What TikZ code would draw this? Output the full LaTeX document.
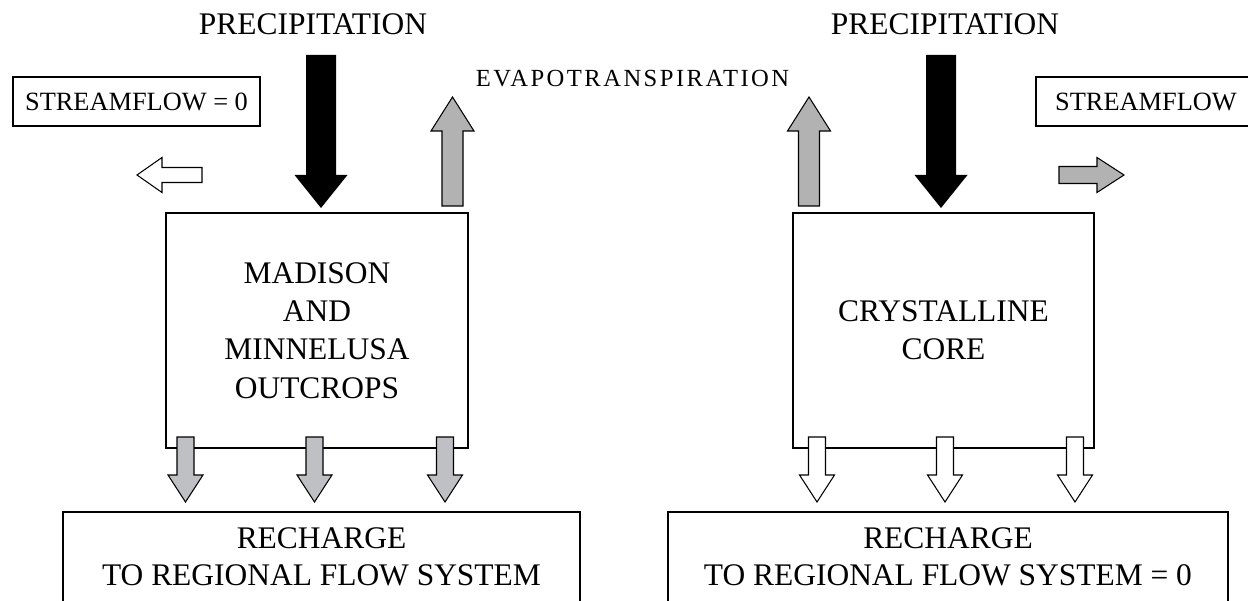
\documentclass[tikz,border=0pt]{standalone}
\usepackage{fontspec}
\setmainfont{Liberation Serif}
\usetikzlibrary{positioning}
\definecolor{EvapGray}{RGB}{178,178,178}
\definecolor{RechGray}{RGB}{191,192,196}
\newfontfamily\evapfont[LetterSpace=10]{Liberation Serif}

\tikzset{
	boxline/.style={draw, line width=1.4pt},
	unitbox/.style={boxline, align=center, inner sep=0pt,
		font=\fontsize{17.9}{21.8}\selectfont},
	flowbox/.style={boxline, inner sep=0pt,
		font=\fontsize{15}{18}\selectfont},
	arrline/.style={draw, line width=0.6pt, line join=miter}
}

\begin{document}
\begin{tikzpicture}[x=0.02cm, y=-0.02cm]
	\useasboundingbox (0,0) rectangle (1248,601);
	
	% Kaesten der beiden Gebiete
	\node[unitbox, minimum width=6.04cm, minimum height=4.7cm] (madison) at (317,330.5)
		{MADISON\\AND\\MINNELUSA\\OUTCROPS};
	\node[unitbox, minimum width=6.02cm, minimum height=4.7cm] (core) at (943.5,330.5)
		{CRYSTALLINE\\CORE};
	
	% Abfluss
	\node[flowbox, minimum width=4.94cm, minimum height=0.98cm] (flowL) at (136.5,101.5) {STREAMFLOW = 0};
	\node[flowbox, minimum width=4.4cm, minimum height=0.98cm] (flowR) at (1146,101.5) {STREAMFLOW};
	
	% Beschriftung oben
	\node[anchor=base, inner sep=0pt, font=\fontsize{17.9}{21.8}\selectfont] (precL) at (313,35) {PRECIPITATION};
	\node[anchor=base, inner sep=0pt, font=\fontsize{17.9}{21.8}\selectfont] (precR) at (945,35) {PRECIPITATION};
	\node[anchor=base, inner sep=0pt, font=\evapfont\fontsize{14}{17}\selectfont] (evap) at (632.5,87) {EVAPOTRANSPIRATION};
	
	% Niederschlag
	\foreach \cx in {321,941}
		\fill ({\cx-15},55) -- ({\cx+15},55) -- ({\cx+15},175) -- ({\cx+26.5},175)
			-- (\cx,208) -- ({\cx-26.5},175) -- ({\cx-15},175) -- cycle;
	
	% Verdunstung
	\foreach \cx in {452.5,809}
		\draw[arrline, fill=EvapGray] ({\cx-10.5},206) -- ({\cx+10.5},206) -- ({\cx+10.5},131)
			-- ({\cx+21.5},131) -- (\cx,97) -- ({\cx-21.5},131) -- ({\cx-10.5},131) -- cycle;
	
	% Abflusspfeile
	\draw[arrline, fill=white] (202,167.5) -- (162,167.5) -- (162,157.5) -- (137,175)
		-- (162,192.5) -- (162,182.5) -- (202,182.5) -- cycle;
	\draw[arrline, fill=EvapGray] (1059,166.5) -- (1097,166.5) -- (1097,157.5) -- (1124,175)
		-- (1097,192.5) -- (1097,183.5) -- (1059,183.5) -- cycle;
	
	% Grundwasserneubildung
	\draw[boxline] (63,650) |- (580,512) -- (580,650);
	\draw[boxline] (668,650) |- (1228,512) -- (1228,650);
	\node[align=center, inner sep=0pt, font=\fontsize{17.9}{21}\selectfont] (rechL) at (321.5,556.5)
		{RECHARGE\\TO REGIONAL FLOW SYSTEM};
	\node[align=center, inner sep=0pt, font=\fontsize{17.9}{21}\selectfont] (rechR) at (948,556.5)
		{RECHARGE\\TO REGIONAL FLOW SYSTEM = 0};
	
	\foreach \cx in {185.5,314.5,445}
		\draw[arrline, fill=RechGray] ({\cx-8.5},437) -- ({\cx+8.5},437) -- ({\cx+8.5},475)
			-- ({\cx+17.5},475) -- (\cx,502) -- ({\cx-17.5},475) -- ({\cx-8.5},475) -- cycle;
	\foreach \cx in {817,945,1075}
		\draw[arrline, fill=white] ({\cx-8.5},437) -- ({\cx+8.5},437) -- ({\cx+8.5},475)
			-- ({\cx+17.5},475) -- (\cx,502) -- ({\cx-17.5},475) -- ({\cx-8.5},475) -- cycle;
\end{tikzpicture}
\end{document}
